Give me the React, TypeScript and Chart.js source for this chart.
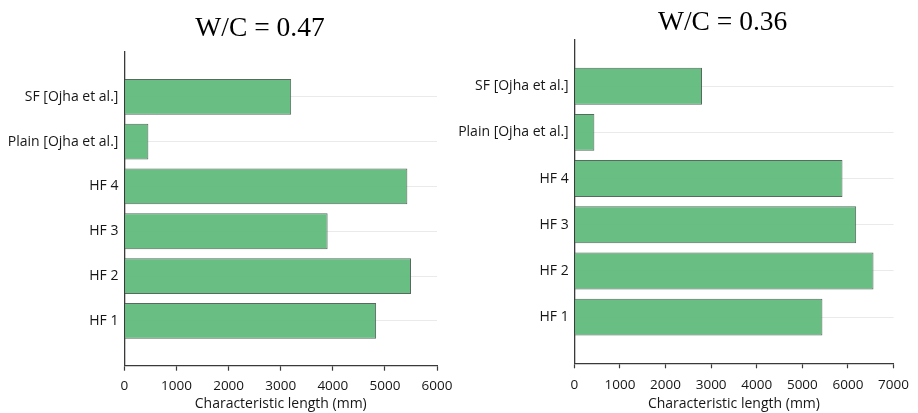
import React, { useEffect, useRef } from "react";
import { Chart, registerables } from "chart.js";

Chart.register(...registerables);

// ---- data ----
const categories = ["SF [Ojha et al.]", "Plain [Ojha et al.]", "HF 4", "HF 3", "HF 2", "HF 1"];
const valuesWC047 = [3200, 460, 5430, 3900, 5500, 4830];
const valuesWC036 = [2800, 440, 5880, 6180, 6560, 5440];
const xTicksWC047 = [0, 1000, 2000, 3000, 4000, 5000, 6000];
const xTicksWC036 = [0, 1000, 2000, 3000, 4000, 5000, 6000, 7000];
const titleWC047 = "W/C = 0.47";
const titleWC036 = "W/C = 0.36";
const xAxisTitle = "Characteristic length (mm)";

const BAR_FILL = "rgba(92,186,120,0.92)";
const BAR_BORDER = "rgba(70,90,76,0.9)";
const AXIS = "#3a3a3a";
const TEXT = "#161616";
const FONT = "'Open Sans', sans-serif";

type Panel = {
  left: number;
  width: number;
  areaLeft: number;
  areaRight: number;
  areaTop: number;
  areaBottom: number;
  titleX: number;
  titleBase: number;
  tickPad: number;
  labelPad: number;
  title: string;
  values: number[];
  xTicks: number[];
};

const HEIGHT = 413;

const panels: Panel[] = [
  {
    left: 0, width: 460,
    areaLeft: 124.4, areaRight: 438.7, areaTop: 52, areaBottom: 365.7,
    titleX: 260, titleBase: 36, tickPad: 7.5, labelPad: 6,
    title: titleWC047, values: valuesWC047, xTicks: xTicksWC047,
  },
  {
    left: 440, width: 478,
    areaLeft: 134.3, areaRight: 459.3, areaTop: 40, areaBottom: 363.3,
    titleX: 282.6, titleBase: 29.5, tickPad: 9, labelPad: 5.6,
    title: titleWC036, values: valuesWC036, xTicks: xTicksWC036,
  },
];

function BarPanel({ p }: { p: Panel }) {
  const ref = useRef<HTMLCanvasElement | null>(null);
  useEffect(() => {
    if (!ref.current) return;
    const labels = ["", ...categories, ""];
    const data = [null, ...p.values, null];
    const last = labels.length - 1;
    const titlePlugin = {
      id: "panelTitle" + p.left,
      afterDraw(chart: any) {
        const ctx = chart.ctx;
        ctx.save();
        ctx.font = "27.5px 'Liberation Serif', 'Times New Roman', serif";
        ctx.fillStyle = "#000";
        ctx.textAlign = "center";
        ctx.textBaseline = "alphabetic";
        ctx.fillText(p.title, p.titleX, p.titleBase);
        ctx.restore();
      },
    };
    const chart = new Chart(ref.current, {
      type: "bar",
      data: {
        labels,
        datasets: [
          {
            data: data as any,
            backgroundColor: BAR_FILL,
            borderColor: BAR_BORDER,
            borderWidth: 1,
            barPercentage: 0.8,
            categoryPercentage: 1,
          },
        ],
      },
      plugins: [titlePlugin],
      options: {
        indexAxis: "y",
        responsive: false,
        animation: false,
        events: [],
        layout: {
          padding: {
            left: 0,
            top: p.areaTop,
            right: p.width - p.areaRight,
            bottom: 0,
          },
        },
        plugins: {
          legend: { display: false },
          title: { display: false },
          tooltip: { enabled: false },
        },
        scales: {
          y: {
            type: "category",
            offset: false,
            grid: {
              offset: false,
              drawTicks: false,
              color: (ctx: any) =>
                ctx.index === 0 || ctx.index === last ? "rgba(0,0,0,0)" : "#eaeaea",
              lineWidth: 1,
            },
            border: { display: true, color: AXIS, width: 1.3 },
            ticks: {
              padding: p.labelPad,
              color: TEXT,
              font: { family: FONT, size: 14 },
              autoSkip: false,
            },
            afterFit: (scale: any) => {
              scale.width = p.areaLeft;
            },
          },
          x: {
            type: "linear",
            min: p.xTicks[0],
            max: p.xTicks[p.xTicks.length - 1],
            grid: {
              drawOnChartArea: false,
              drawTicks: true,
              tickLength: 5,
              color: AXIS,
              tickWidth: 1.2,
            },
            border: { display: true, color: AXIS, width: 1.3 },
            ticks: {
              padding: p.tickPad,
              color: TEXT,
              font: { family: FONT, size: 13.5 },
              callback: (v: any) => String(v),
            },
            afterBuildTicks: (scale: any) => {
              scale.ticks = p.xTicks.map((v) => ({ value: v }));
            },
            title: {
              display: true,
              text: xAxisTitle,
              color: TEXT,
              font: { family: FONT, size: 14 },
              padding: { top: 0, bottom: 1 },
            },
            afterFit: (scale: any) => {
              scale.height = HEIGHT - p.areaBottom;
            },
          },
        },
      },
    });
    return () => chart.destroy();
  }, [p]);
  return (
    <canvas
      ref={ref}
      width={p.width}
      height={HEIGHT}
      style={{ position: "absolute", left: p.left, top: 0, width: p.width, height: HEIGHT }}
    />
  );
}

export default function App() {
  return (
    <div
      style={{
        position: "fixed",
        left: 0,
        top: 0,
        width: 918,
        height: HEIGHT,
        background: "#fff",
        overflow: "hidden",
      }}
    >
      {panels.map((p) => (
        <BarPanel key={p.left} p={p} />
      ))}
    </div>
  );
}
